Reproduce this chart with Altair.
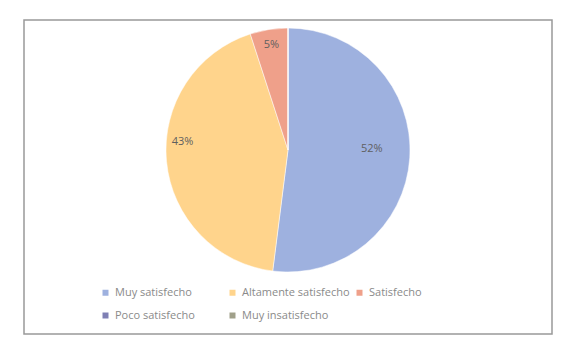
import altair as alt
import pandas as pd

categories = ["Muy satisfecho", "Altamente satisfecho", "Satisfecho", "Poco satisfecho", "Muy insatisfecho"]
values = [52, 43, 5, 0, 0]
labels = ["52%", "43%", "5%", "", ""]
colors = ["#9EB1DF", "#FFD48C", "#EFA08A", "#7F80B4", "#A0A08A"]

df = pd.DataFrame({
    "cat": categories,
    "val": values,
    "lab": labels,
    "order": list(range(len(categories))),
})

color_scale = alt.Scale(domain=categories, range=colors)
theta_scale = alt.Scale(domain=[0, 100])

pie = alt.Chart(df).mark_arc(outerRadius=122, stroke="white", strokeWidth=0.5).encode(
    theta=alt.Theta("val:Q", stack=True, scale=theta_scale),
    order=alt.Order("order:Q"),
    color=alt.Color(
        "cat:N",
        scale=color_scale,
        sort=categories,
        legend=alt.Legend(
            title=None,
            orient="none",
            legendX=76,
            legendY=267,
            direction="horizontal",
            columns=3,
            gridAlign="all",
            columnPadding=4,
            rowPadding=11,
            symbolType="square",
            symbolSize=36,
            symbolStrokeWidth=0,
            labelFont="Open Sans",
            labelFontSize=11,
            labelColor="#8a8a8a",
            labelOffset=4,
            labelLimit=200,
            padding=0,
        ),
    ),
    x=alt.value(264),
    y=alt.value(130),
)

text = alt.Chart(df).transform_window(
    cum="sum(val)", sort=[alt.SortField("order")], frame=[None, 0]
).transform_calculate(
    mid="datum.cum - datum.val / 2",
    r="datum.val > 50 ? 84 : 106",
    dy="datum.val > 50 ? -6 : (datum.val > 10 ? -18 : 0)",
).transform_filter("datum.val > 0").mark_text(
    font="Open Sans", fontSize=11, color="#5f5f5f"
).encode(
    theta=alt.Theta("mid:Q", stack=None, scale=theta_scale),
    text="lab:N",
    radius=alt.Radius("r:Q", scale=None),
    yOffset=alt.YOffset("dy:Q", scale=None),
    x=alt.value(264),
    y=alt.value(130),
)

chart = (pie + text).properties(
    width=528,
    height=314,
    padding={"left": 24, "top": 20, "right": 22, "bottom": 21},
    autosize=alt.AutoSizeParams(type="none"),
    background="white",
).configure_view(stroke="#999999", strokeWidth=1.5)

chart.save("out.html", embed_options={"renderer": "svg", "actions": False})
